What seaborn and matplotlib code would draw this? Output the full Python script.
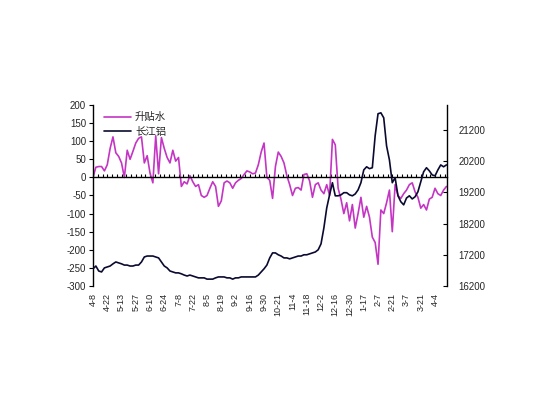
import numpy as np
import pandas as pd
import matplotlib
matplotlib.use("Agg")
import matplotlib.pyplot as plt
import seaborn as sns

# ---- data (one point every 2 trading days) ----
premium = [0, 28, 30, 30, 18, 35, 80, 112, 68, 58,
           40, 0, 75, 50, 72, 95, 108, 112, 40, 60,
           12, -15, 115, 10, 110, 80, 55, 40, 75, 45,
           55, -25, -12, -18, 5, -12, -25, -20, -50, -55,
           -50, -30, -12, -25, -80, -65, -15, -10, -15, -30,
           -15, -8, -3, 8, 18, 15, 10, 12, 35, 70,
           95, 0, -8, -58, 30, 70, 58, 40, 5, -20,
           -50, -30, -28, -35, 8, 10, -10, -55, -20, -15,
           -35, -45, -20, -50, 105, 90, -30, -60, -100, -70,
           -120, -75, -140, -100, -55, -110, -80, -110, -165, -180,
           -240, -90, -100, -70, -35, -150, -20, -50, -58, -45,
           -35, -20, -15, -40, -55, -85, -75, -90, -60, -55,
           -30, -45, -50, -35, -25]

price = [16750, 16840, 16680, 16650, 16780, 16810, 16840, 16910, 16970, 16940,
         16910, 16870, 16870, 16840, 16840, 16870, 16870, 16970, 17130, 17160,
         17160, 17160, 17130, 17100, 16970, 16840, 16780, 16680, 16650, 16620,
         16620, 16590, 16550, 16520, 16550, 16520, 16490, 16460, 16460, 16460,
         16420, 16420, 16420, 16460, 16490, 16490, 16490, 16460, 16460, 16420,
         16460, 16460, 16490, 16490, 16490, 16490, 16490, 16490, 16550, 16650,
         16750, 16870, 17100, 17260, 17260, 17200, 17160, 17100, 17100, 17070,
         17100, 17130, 17160, 17160, 17200, 17200, 17230, 17260, 17290, 17360,
         17550, 18060, 18700, 19120, 19510, 19090, 19090, 19120, 19190, 19190,
         19120, 19090, 19150, 19280, 19510, 19920, 20020, 19960, 19990, 21020,
         21720, 21750, 21590, 20690, 20240, 19510, 19670, 19090, 18900, 18800,
         19020, 19090, 18990, 19060, 19220, 19540, 19860, 19990, 19890, 19760,
         19730, 19920, 20080, 20020, 20080]

date_labels = ["4-8", "4-22", "5-13", "5-27", "6-10", "6-24", "7-8", "7-22",
               "8-5", "8-19", "9-2", "9-16", "9-30", "10-21", "11-4", "11-18",
               "12-2", "12-16", "12-30", "1-17", "2-7", "2-21", "3-7", "3-21", "4-4"]

series_names = ["升贴水", "长江铝"]
left_ticks = list(range(-300, 201, 50))
right_ticks = [16200, 17200, 18200, 19200, 20200, 21200]

# ---- figure ----
sns.set_style("white")
plt.rcParams["font.family"] = ["Liberation Sans", "Noto Sans CJK SC", "DejaVu Sans"]

idx = np.arange(len(premium))
df = pd.DataFrame({"idx": idx, "premium": premium, "price": price})

fig = plt.figure(figsize=(5.55, 3.93), dpi=100)
ax = fig.add_axes([0.1676, 0.2723, 0.8054 - 0.1676, 0.7328 - 0.2723])

magenta = "#C435C4"
dark = "#0A0A30"

sns.lineplot(data=df, x="idx", y="premium", ax=ax, color=magenta, lw=1.2,
             label=series_names[0], legend=False)
ax2 = ax.twinx()
sns.lineplot(data=df, x="idx", y="price", ax=ax2, color=dark, lw=1.2,
             label=series_names[1], legend=False)

n = len(premium)
ax.set_xlim(0, n - 0.8)
ax.set_ylim(-300, 200)
ax2.set_ylim(16200, 22000)
ax.set_yticks(left_ticks)
ax.set_yticklabels([str(t) for t in left_ticks], fontsize=7)
ax2.set_yticks(right_ticks)
ax2.set_yticklabels([str(t) for t in right_ticks], fontsize=7)
ax.set_xlabel("")
ax.set_ylabel("")
ax2.set_ylabel("")

for a in (ax, ax2):
    a.spines["top"].set_visible(False)
    a.grid(False)
ax2.spines["bottom"].set_visible(False)
ax2.spines["left"].set_visible(False)
ax.spines["right"].set_visible(False)
ax.spines["left"].set_color("black")
ax.spines["left"].set_linewidth(1.0)
ax2.spines["right"].set_color("black")
ax2.spines["right"].set_linewidth(1.0)

# category axis crossing at zero with small tick marks
ax.spines["bottom"].set_position(("data", 0))
ax.spines["bottom"].set_color("black")
ax.spines["bottom"].set_linewidth(1.0)
minor_pos = np.arange(0, n - 0.8, 5 / 3)
ax.set_xticks(minor_pos)
ax.tick_params(axis="x", direction="in", length=2, width=0.8,
               labelbottom=False, bottom=True, color="black")
ax.tick_params(axis="y", direction="out", length=3, width=0.8, left=True,
               color="black", pad=2)
ax2.tick_params(axis="y", direction="in", length=3, width=0.8, right=True,
                color="black", pad=8)

# date labels at the bottom
label_pos = np.arange(0, 5 * len(date_labels), 5)
sec = ax.secondary_xaxis("bottom")
sec.set_xticks(label_pos)
sec.set_xticklabels(date_labels, rotation=90, fontsize=6.5, va="top", ha="center")
sec.spines["bottom"].set_visible(False)
sec.tick_params(length=0, pad=5)

# legend
h1, l1 = ax.get_legend_handles_labels()
h2, l2 = ax2.get_legend_handles_labels()
leg = ax2.legend(h1 + h2, l1 + l2, loc="upper left", bbox_to_anchor=(0.01, 1.0),
                 frameon=False, fontsize=7.5, handlelength=2.6,
                 handletextpad=0.4, labelspacing=0.45, borderaxespad=0.3)

fig.savefig("out.png", dpi=100, facecolor="white")
